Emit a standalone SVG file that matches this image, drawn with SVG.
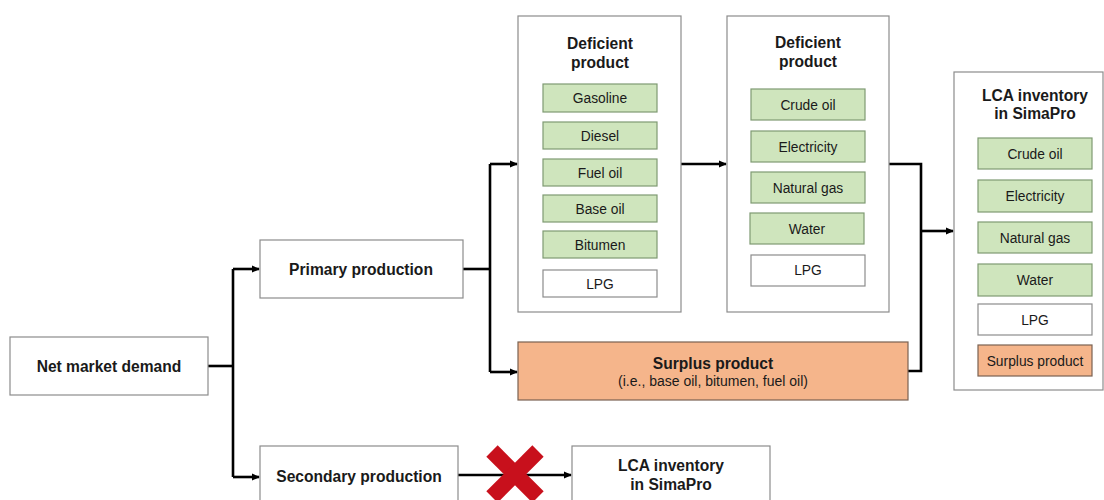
<svg xmlns="http://www.w3.org/2000/svg" width="1104" height="500" viewBox="0 0 1104 500">
  <defs>
    <marker id="arrow" markerWidth="8" markerHeight="8" refX="7" refY="4" orient="auto" markerUnits="userSpaceOnUse">
      <path d="M0,0.5 L8,4 L0,7.5 Z" fill="#000"/>
    </marker>
    <style>
      .box { fill: #fff; stroke: #8c8c8c; stroke-width: 1.2; }
      .green { fill: #cfe5bd; stroke: #7f9a72; stroke-width: 1.2; }
      .white { fill: #fff; stroke: #8c8c8c; stroke-width: 1.2; }
      .orange { fill: #f5b58b; stroke: #7a6252; stroke-width: 1.2; }
      .title { font-family: "Liberation Sans", Arial, sans-serif; font-weight: bold; font-size: 15.6px; fill: #1a1a1a; text-anchor: middle; }
      .item { font-family: "Liberation Sans", Arial, sans-serif; font-size: 13.8px; fill: #1a1a1a; text-anchor: middle; }
      .sub { font-family: "Liberation Sans", Arial, sans-serif; font-size: 14px; fill: #1a1a1a; text-anchor: middle; }
      .wire { fill: none; stroke: #000; stroke-width: 2.6; }
      .cross { stroke: #c8101c; stroke-width: 16; stroke-linecap: butt; }
    </style>
  </defs>

  <!-- connectors -->
  <g id="connectors">
    <path class="wire" d="M208,366 H233"/>
    <path class="wire" d="M233,269 V477"/>
    <path class="wire" d="M233,269 H259" marker-end="url(#arrow)"/>
    <path class="wire" d="M233,477 H259" marker-end="url(#arrow)"/>
    <path class="wire" d="M463,269 H490"/>
    <path class="wire" d="M490,164 V372"/>
    <path class="wire" d="M490,164 H517" marker-end="url(#arrow)"/>
    <path class="wire" d="M490,372 H517" marker-end="url(#arrow)"/>
    <path class="wire" d="M681,164 H726" marker-end="url(#arrow)"/>
    <path class="wire" d="M889,164 H921 V371 H908"/>
    <path class="wire" d="M921,231 H953" marker-end="url(#arrow)"/>
    <path class="wire" d="M458,475 H571" marker-end="url(#arrow)"/>
  </g>

  <!-- net market demand -->
  <g id="net-market-demand">
    <rect class="box" x="10" y="337" width="198" height="58"/>
    <text class="title" x="109" y="371.5">Net market demand</text>
  </g>

  <!-- primary production -->
  <g id="primary-production">
    <rect class="box" x="260" y="240" width="203" height="58"/>
    <text class="title" x="361" y="274.5">Primary production</text>
  </g>

  <!-- secondary production -->
  <g id="secondary-production">
    <rect class="box" x="260" y="446" width="198" height="70"/>
    <text class="title" x="359" y="481.5">Secondary production</text>
  </g>

  <!-- deficient refinery products -->
  <g id="deficient-product-1">
    <rect class="box" x="518" y="16" width="163" height="296"/>
    <text class="title" x="600" y="49">Deficient</text>
    <text class="title" x="600" y="68">product</text>
    <rect class="green" x="543" y="84" width="114" height="28"/>
    <text class="item" x="600" y="103">Gasoline</text>
    <rect class="green" x="543" y="122" width="114" height="27"/>
    <text class="item" x="600" y="140.5">Diesel</text>
    <rect class="green" x="543" y="159" width="114" height="27"/>
    <text class="item" x="600" y="177.5">Fuel oil</text>
    <rect class="green" x="543" y="195" width="114" height="27"/>
    <text class="item" x="600" y="213.5">Base oil</text>
    <rect class="green" x="543" y="231" width="114" height="27"/>
    <text class="item" x="600" y="249.5">Bitumen</text>
    <rect class="white" x="543" y="270" width="114" height="27"/>
    <text class="item" x="600" y="288.5">LPG</text>
  </g>

  <!-- deficient upstream products -->
  <g id="deficient-product-2">
    <rect class="box" x="727" y="16" width="162" height="296"/>
    <text class="title" x="808" y="48">Deficient</text>
    <text class="title" x="808" y="67">product</text>
    <rect class="green" x="751" y="89" width="114" height="31"/>
    <text class="item" x="808" y="110">Crude oil</text>
    <rect class="green" x="751" y="131" width="114" height="31"/>
    <text class="item" x="808" y="152">Electricity</text>
    <rect class="green" x="751" y="172" width="114" height="31"/>
    <text class="item" x="808" y="193">Natural gas</text>
    <rect class="green" x="750" y="213" width="114" height="31"/>
    <text class="item" x="807" y="234">Water</text>
    <rect class="white" x="751" y="255" width="114" height="31"/>
    <text class="item" x="808" y="275">LPG</text>
  </g>

  <!-- surplus product -->
  <g id="surplus-product">
    <rect class="orange" x="518" y="342" width="390" height="58"/>
    <text class="title" x="713" y="368.5">Surplus product</text>
    <text class="sub" x="713" y="386">(i.e., base oil, bitumen, fuel oil)</text>
  </g>

  <!-- LCA inventory (right) -->
  <g id="lca-inventory">
    <rect class="box" x="954" y="72" width="149" height="318"/>
    <text class="title" x="1035" y="101">LCA inventory</text>
    <text class="title" x="1035" y="119">in SimaPro</text>
    <rect class="green" x="978" y="138" width="114" height="31"/>
    <text class="item" x="1035" y="159">Crude oil</text>
    <rect class="green" x="978" y="180" width="114" height="32"/>
    <text class="item" x="1035" y="201">Electricity</text>
    <rect class="green" x="978" y="222" width="114" height="31"/>
    <text class="item" x="1035" y="243">Natural gas</text>
    <rect class="green" x="978" y="264" width="114" height="32"/>
    <text class="item" x="1035" y="285">Water</text>
    <rect class="white" x="978" y="304" width="114" height="31"/>
    <text class="item" x="1035" y="325">LPG</text>
    <rect class="orange" x="978" y="345" width="114" height="31"/>
    <text class="item" x="1035" y="366">Surplus product</text>
  </g>

  <!-- LCA inventory (bottom) -->
  <g id="lca-inventory-secondary">
    <rect class="box" x="572" y="446" width="198" height="70"/>
    <text class="title" x="671" y="471">LCA inventory</text>
    <text class="title" x="671" y="490">in SimaPro</text>
  </g>

  <!-- blocked route marker -->
  <g id="blocked">
    <line class="cross" x1="492" y1="451" x2="538" y2="497"/>
    <line class="cross" x1="538" y1="451" x2="492" y2="497"/>
  </g>
</svg>
